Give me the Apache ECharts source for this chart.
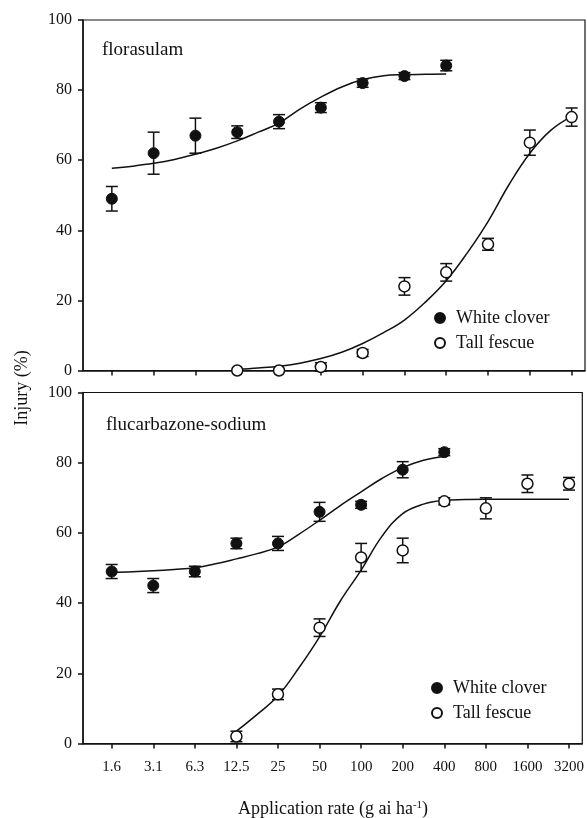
<!DOCTYPE html>
<html><head><meta charset="utf-8">
<script src="https://cdn.jsdelivr.net/npm/echarts@6/dist/echarts.min.js"></script>
<style>html,body{margin:0;padding:0;background:#fff}#c{width:587px;height:818px}</style>
</head><body><div id="c"></div>
<script>
// Tick labels (application rates, g ai/ha); x is the rate index on a doubling scale
const rateLabels = ['1.6','3.1','6.3','12.5','25','50','100','200','400','800','1600','3200'];
const rateIdx = [0,1,2,3,4,5,6,7,8,9,10,11];

// Florasulam panel
const floCloverX = [0,1,2,3,4,5,6,7,8];
const floClover = [49,62,67,68,71,75,82,84,87];
const floCloverErr = [3.5,6,5,1.8,2,1.4,1.2,1,1.5];
const floFescueX = [3,4,5,6,7,8,9,10,11];
const floFescue = [0,0,1,5,24,28,36,65,72.3];
const floFescueErr = [0,0,1.2,1,2.5,2.5,1.7,3.6,2.6];
// fitted curves, x every half step
const floCloverCurveX = [0,0.5,1,1.5,2,2.5,3,3.5,4,4.5,5,5.5,6,6.5,7,7.5,8];
const floCloverCurve = [57.7,58.3,59.1,60.2,61.7,63.4,65.5,68.0,70.6,74.6,78.0,80.9,83.0,84.1,84.4,84.5,84.6];
const floFescueCurveX = [3,3.5,4,4.5,5,5.5,6,6.5,7,7.5,8,8.5,9,9.5,10,10.5,11];
const floFescueCurve = [0.3,0.7,1.2,2.1,3.4,5.2,7.7,10.8,14.4,19.5,25.6,33.5,42.5,53,62,68.5,72.5];

// Flucarbazone-sodium panel
const fluCloverX = [0,1,2,3,4,5,6,7,8];
const fluClover = [49,45,49,57,57,66,68,78,83];
const fluCloverErr = [2,2,1.5,1.5,2,2.7,1,2.3,1];
const fluFescueX = [3,4,5,6,7,8,9,10,11];
const fluFescue = [2,14,33,53,55,69,67,74,74];
const fluFescueErr = [1.5,1.5,2.5,4,3.5,1,3,2.5,1.8];
const fluCloverCurveX = [0,0.5,1,1.5,2,2.5,3,3.5,4,4.5,5,5.5,6,6.5,7,7.5,8];
const fluCloverCurve = [48.7,48.9,49.2,49.6,50.1,51.2,52.6,54.1,56.0,59.6,63.6,67.8,71.7,75.5,78.6,80.7,81.8];
const fluFescueCurveX = [3,3.5,4,4.5,5,5.5,6,6.5,7,7.5,8,8.5,9,9.5,10,10.5,11];
const fluFescueCurve = [3.5,8.3,13.6,21.5,30.4,40.6,49.4,59,65.5,68.2,69.3,69.5,69.6,69.6,69.6,69.6,69.6];

const FONT = '"Liberation Serif", "Times New Roman", serif';
const INK = '#111';

function zip(xs, ys){ return xs.map((x,i)=>[x, ys[i]]); }
function zip3(xs, ys, es){ return xs.map((x,i)=>[x, ys[i], es[i]]); }

function errSeries(gi, xs, ys, es){
  return {
    type:'custom', xAxisIndex:gi, yAxisIndex:gi, z:3, silent:true,
    data: zip3(xs, ys, es),
    renderItem: function(params, api){
      const x = api.value(0), y = api.value(1), e = api.value(2);
      if (!e) return {type:'group', children:[]};
      const top = api.coord([x, y+e]);
      const bot = api.coord([x, y-e]);
      const hw = 6;
      const st = {stroke: INK, lineWidth: 1.5};
      return {type:'group', children:[
        {type:'line', shape:{x1:top[0], y1:top[1], x2:bot[0], y2:bot[1]}, style:st},
        {type:'line', shape:{x1:top[0]-hw, y1:top[1], x2:top[0]+hw, y2:top[1]}, style:st},
        {type:'line', shape:{x1:bot[0]-hw, y1:bot[1], x2:bot[0]+hw, y2:bot[1]}, style:st}
      ]};
    }
  };
}
function curveSeries(gi, xs, ys){
  return {type:'line', xAxisIndex:gi, yAxisIndex:gi, z:2, silent:true, data: zip(xs, ys),
    smooth:0.4, showSymbol:false, lineStyle:{color:INK, width:1.5}};
}
function ptSeries(gi, name, xs, ys, filled){
  return {type:'scatter', name:name, xAxisIndex:gi, yAxisIndex:gi, z:5, data: zip(xs, ys),
    symbol:'circle', symbolSize:11,
    itemStyle: filled ? {color:INK, borderColor:INK, borderWidth:1, opacity:1}
                      : {color:'#fff', borderColor:INK, borderWidth:1.5, opacity:1}};
}
function xAxis(gi, showLabels){
  return {type:'value', gridIndex:gi, min:-0.69, max:11.32,
    axisLine:{show:true, onZero:false, lineStyle:{color:INK, width:1.5}},
    axisTick:{show:true, inside:false, length:5, customValues: rateIdx, lineStyle:{color:INK, width:1.5}},
    axisLabel:{show:showLabels, customValues: rateIdx, margin:16, color:INK, fontFamily:FONT, fontSize:15,
      formatter: v => rateLabels[Math.round(v)]},
    splitLine:{show:false}};
}
function yAxis(gi){
  return {type:'value', gridIndex:gi, min:0, max:100, interval:20,
    axisLine:{show:true, onZero:false, lineStyle:{color:INK, width:1.5}},
    axisTick:{show:true, inside:false, length:5, lineStyle:{color:INK, width:1.5}},
    axisLabel:{margin:11, color:INK, fontFamily:FONT, fontSize:16},
    splitLine:{show:false}};
}
function legend(left, top){
  return {orient:'vertical', left:left, top:top, itemWidth:22, itemHeight:10, itemGap:7,
    data:[{name:'White clover', icon:'circle'},{name:'Tall fescue', icon:'circle'}],
    textStyle:{fontFamily:FONT, fontSize:18, color:INK}, selectedMode:false};
}

const chart = echarts.init(document.getElementById('c'), null, {renderer:'canvas'});
chart.setOption({
  animation:false,
  backgroundColor:'#fff',
  grid:[
    {left:83, top:20, width:502, height:350.5, show:true, borderColor:INK, borderWidth:1.2, backgroundColor:'transparent'},
    {left:83, top:392.5, width:502, height:351, show:true, borderColor:INK, borderWidth:1.2, backgroundColor:'transparent'}
  ],
  xAxis:[xAxis(0,false), xAxis(1,true)],
  yAxis:[yAxis(0), yAxis(1)],
  legend:[legend(429, 304), legend(426, 674)],
  series:[
    curveSeries(0, floCloverCurveX, floCloverCurve),
    curveSeries(0, floFescueCurveX, floFescueCurve),
    errSeries(0, floCloverX, floClover, floCloverErr),
    errSeries(0, floFescueX, floFescue, floFescueErr),
    ptSeries(0, 'White clover', floCloverX, floClover, true),
    ptSeries(0, 'Tall fescue', floFescueX, floFescue, false),
    curveSeries(1, fluCloverCurveX, fluCloverCurve),
    curveSeries(1, fluFescueCurveX, fluFescueCurve),
    errSeries(1, fluCloverX, fluClover, fluCloverErr),
    errSeries(1, fluFescueX, fluFescue, fluFescueErr),
    ptSeries(1, 'White clover', fluCloverX, fluClover, true),
    ptSeries(1, 'Tall fescue', fluFescueX, fluFescue, false)
  ],
  graphic:[
    {type:'text', left:102, top:41, style:{text:'florasulam', fontFamily:FONT, fontSize:19, fill:INK}},
    {type:'text', left:106, top:416, style:{text:'flucarbazone-sodium', fontFamily:FONT, fontSize:19, fill:INK}},
    {type:'text', x:22, y:388, rotation:Math.PI/2,
      style:{text:'Injury (%)', fontFamily:FONT, fontSize:18, fill:INK, align:'center', verticalAlign:'middle'}},
    {type:'text', x:333, y:809,
      style:{text:'Application rate (g ai ha{sup|-1})', fontFamily:FONT, fontSize:18, fill:INK, align:'center', verticalAlign:'middle',
        rich:{sup:{fontFamily:FONT, fontSize:11, verticalAlign:'top', padding:[0,0,8,0], fill:INK}}}}
  ]
});
</script></body></html>
